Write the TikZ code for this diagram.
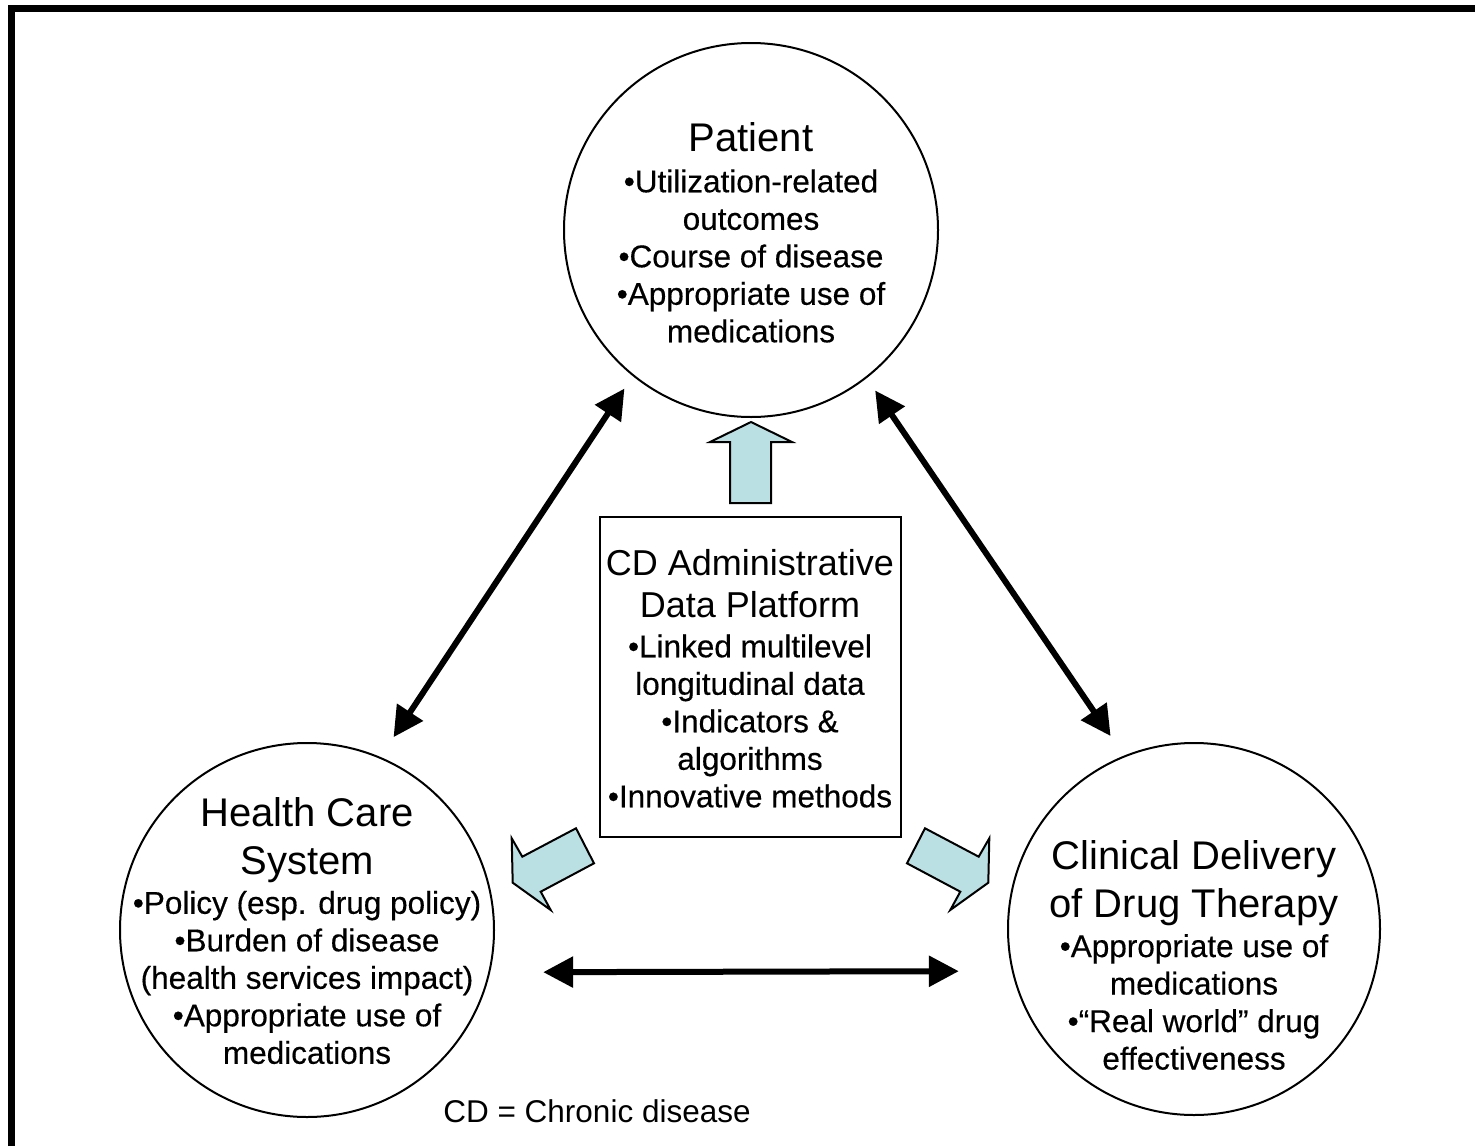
\documentclass[tikz,border=0pt]{standalone}
\usepackage{fontspec}
\setmainfont{Liberation Sans}
\newfontfamily\bodyfont{Liberation Sans}[BoldFont={Liberation Sans},BoldFeatures={FakeBold=0.4}]
\usetikzlibrary{arrows.meta}
\definecolor{lblue}{RGB}{186,224,228}
\begin{document}
\begin{tikzpicture}[x=1pt,y=-1pt,
  circ/.style={circle,draw,line width=2pt,minimum size=374pt,inner sep=0pt},
  ttl/.style={align=center,inner sep=0pt,font=\fontsize{40}{48}\selectfont},
  cdttl/.style={align=center,inner sep=0pt,font=\fontsize{36}{42}\selectfont},
  body/.style={align=center,inner sep=0pt,font=\bodyfont\fontsize{31.5}{37.5}\selectfont\bfseries},
  dbl/.style={line width=6pt,{Triangle[length=30pt,width=30pt]}-{Triangle[length=30pt,width=30pt]}},
  blk/.style={draw,line width=2pt,fill=lblue,line join=miter}]
\useasboundingbox (0,0) rectangle (1475,1146);
\draw[line width=7pt] (11.5,1146) -- (11.5,8.5) -- (1475,8.5);
% circles
\node[circ] (pat) at (751,230) {};
\node[circ] (hcs) at (307,930) {};
\node[circ,minimum size=372pt] (cli) at (1194,929) {};
% texts
\node[ttl] (patT) at (751,137) {Patient};
\node[body] (patB) at (751,256) {•Utilization-related\\outcomes\\•Course of disease\\•Appropriate use of\\medications};
\node[ttl] (hcsT) at (307,840) {Health Care\\System};
\node[body] (hcsB) at (307,977.5) {•Policy (esp. drug policy)\\•Burden of disease\\(health services impact)\\•Appropriate use of\\medications};
\node[ttl] (cliT) at (1194,883) {Clinical Delivery\\of Drug Therapy};
\node[body] (cliB) at (1194,1002) {•Appropriate use of\\medications\\•“Real world” drug\\effectiveness};
% CD box
\node[draw,line width=2pt,minimum width=301pt,minimum height=320pt,inner sep=0pt] (cd) at (750.5,677) {};
\node[cdttl] (cdT) at (750,584) {CD Administrative\\Data Platform};
\node[body] (cdB) at (750,721) {•Linked multilevel\\longitudinal data\\•Indicators \&\\algorithms\\•Innovative methods};
\node[align=center,inner sep=0pt,font=\fontsize{31.5}{37.5}\selectfont] (note) at (597,1111) {CD = Chronic disease};
% double arrows
\draw[dbl,shorten <=23.7pt,shorten >=14.9pt] (hcs.67.2) -- (pat.231.2);
\draw[dbl,shorten <=23.7pt,shorten >=14.9pt] (cli.112.8) -- (pat.308.8);
\draw[dbl,shorten <=53pt,shorten >=53pt] (hcs.347.1) -- (cli.193.5);
% block arrows
\draw[blk] (730,503) -- (730,442) -- (710,442) -- (751,422) -- (792,442) -- (771,442) -- (771,503) -- cycle;
\draw[blk] (576,828.3) -- (522.3,856.7) -- (511.7,838.3) -- (512.7,882.7) -- (550.7,910) -- (540.7,891.7) -- (594,863.3) -- cycle;
\draw[blk] (925,828.3) -- (978.7,856.7) -- (989.3,838.3) -- (988.3,882.7) -- (950.3,910) -- (960.3,891.7) -- (907,863.3) -- cycle;
\end{tikzpicture}
\end{document}
